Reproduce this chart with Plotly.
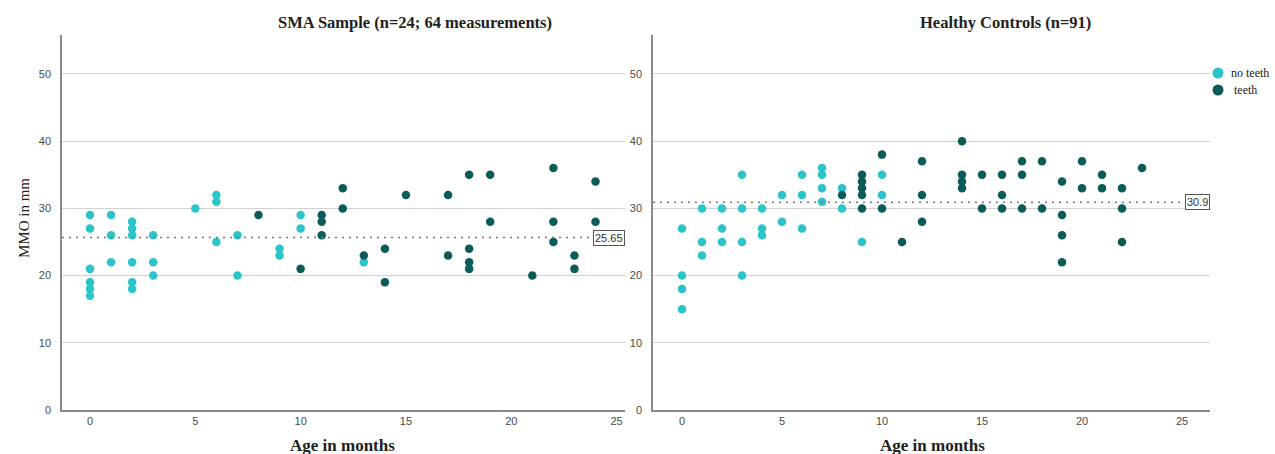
import plotly.graph_objects as go

# ---------------- data ----------------
sma_nt_age = [0,0,0,0,0,0, 1,1,1, 2,2,2,2,2,2, 3,3,3, 5, 6,6,6, 7,7, 9,9, 10,10, 13]
sma_nt_mmo = [29,27,21,19,18,17, 29,26,22, 28,27,26,22,19,18, 26,22,20, 30, 32,31,25, 26,20, 24,23, 29,27, 22]

sma_t_age = [8, 10, 11,11,11, 12,12, 13, 14,14, 15, 17,17, 18,18,18,18, 19,19, 21, 22,22,22, 23,23, 24,24]
sma_t_mmo = [29, 21, 29,28,26, 33,30, 23, 24,19, 32, 32,23, 35,24,22,21, 35,28, 20, 36,28,25, 23,21, 34,28]

hc_nt_age = [0,0,0,0, 1,1,1, 2,2,2, 3,3,3,3, 4,4,4, 5,5, 6,6,6, 7,7,7,7, 8,8, 9, 10,10]
hc_nt_mmo = [27,20,18,15, 30,25,23, 30,27,25, 35,30,25,20, 30,27,26, 32,28, 35,32,27, 36,35,33,31, 33,30, 25, 35,32]

hc_t_age = [8, 9,9,9,9,9, 10,10, 11, 12,12,12, 14,14,14,14, 15,15, 16,16,16, 17,17,17, 18,18,
            19,19,19,19, 20,20, 21,21, 22,22,22, 23]
hc_t_mmo = [32, 35,34,33,32,30, 38,30, 25, 37,32,28, 40,35,34,33, 35,30, 35,32,30, 37,35,30, 37,30,
            34,29,26,22, 37,33, 35,33, 33,30,25, 36]

sma_mean = 25.65
hc_mean = 30.9

panel_titles = ["SMA Sample (n=24; 64 measurements)", "Healthy Controls (n=91)"]
x_title = "Age in months"
y_title = "MMO in mm"
group_names = ["no teeth", "teeth"]
x_ticks = [0, 5, 10, 15, 20, 25]
y_ticks = [0, 10, 20, 30, 40, 50]

# ---------------- style ----------------
W, H = 1275, 454        # reference layout coordinates
FIG_H = 460             # rendered figure height (compensates capture scaling)
CYAN = "#2bc4c8"
DARK = "#0b5b58"
SERIF = "Liberation Serif, DejaVu Serif, serif"
SANS = "Liberation Sans, Arial, sans-serif"

def px_x(p):
    return p / W

def px_y(p):
    return (H - p) / H

fig = go.Figure()

panels = [
    dict(xa="x", ya="y", nt=(sma_nt_age, sma_nt_mmo), t=(sma_t_age, sma_t_mmo), mean=sma_mean, mean_lbl="25.65"),
    dict(xa="x2", ya="y2", nt=(hc_nt_age, hc_nt_mmo), t=(hc_t_age, hc_t_mmo), mean=hc_mean, mean_lbl="30.9"),
]

for i, p in enumerate(panels):
    fig.add_trace(go.Scatter(x=p["nt"][0], y=p["nt"][1], mode="markers", name=group_names[0],
                             showlegend=False,
                             marker=dict(color=CYAN, size=8.5, line=dict(width=0)),
                             xaxis=p["xa"], yaxis=p["ya"]))
    fig.add_trace(go.Scatter(x=p["t"][0], y=p["t"][1], mode="markers", name=group_names[1],
                             showlegend=False,
                             marker=dict(color=DARK, size=8.5, line=dict(width=0)),
                             xaxis=p["xa"], yaxis=p["ya"]))

ydom = [px_y(410), px_y(35)]
axis_common = dict(showline=True, linecolor="#8a8a8a", linewidth=1.5, ticks="", zeroline=False,
                   tickfont=dict(family=SANS, size=11, color="#4a4a4a"))

fig.update_layout(
    width=W, height=FIG_H,
    margin=dict(l=0, r=0, t=0, b=0),
    paper_bgcolor="white", plot_bgcolor="white",
    showlegend=False,
    xaxis=dict(domain=[px_x(62), px_x(625)], range=[-1.33, 25.4], tickvals=x_ticks,
               showgrid=False, anchor="y", **axis_common),
    yaxis=dict(domain=ydom, range=[0, 55.8], tickvals=y_ticks, showgrid=True,
               gridcolor="#d2d2d2", gridwidth=1.2, anchor="x", ticklabelstandoff=7, **axis_common),
    xaxis2=dict(domain=[px_x(653), px_x(1210)], range=[-1.45, 26.4], tickvals=x_ticks,
                showgrid=False, anchor="y2", **axis_common),
    yaxis2=dict(domain=ydom, range=[0, 55.8], tickvals=y_ticks, showgrid=True,
                gridcolor="#d2d2d2", gridwidth=1.2, anchor="x2", ticklabelstandoff=7, **axis_common),
)

# mean reference lines and labels
for p in panels:
    fig.add_shape(type="line", xref=p["xa"] + " domain", yref=p["ya"], x0=0, x1=1,
                  y0=p["mean"], y1=p["mean"], line=dict(color="#7a7a7a", width=1.5, dash="2px,5px"),
                  layer="above")
    fig.add_annotation(xref=p["xa"] + " domain", yref=p["ya"], x=1, y=p["mean"], xanchor="right",
                       yanchor="middle", text=p["mean_lbl"], showarrow=False,
                       font=dict(family=SANS, size=11, color="#333"),
                       bgcolor="white", bordercolor="#555", borderwidth=1, borderpad=1)

# panel titles
fig.add_annotation(xref="paper", yref="paper", x=px_x(415), y=px_y(22), text="<b>%s</b>" % panel_titles[0],
                   showarrow=False, font=dict(family=SERIF, size=16.5, color="#222"), xanchor="center", yanchor="middle")
fig.add_annotation(xref="paper", yref="paper", x=px_x(1005), y=px_y(22), text="<b>%s</b>" % panel_titles[1],
                   showarrow=False, font=dict(family=SERIF, size=16.5, color="#222"), xanchor="center", yanchor="middle")

# x axis titles
for cx in (342, 932):
    fig.add_annotation(xref="paper", yref="paper", x=px_x(cx), y=px_y(445), text="<b>%s</b>" % x_title,
                       showarrow=False, font=dict(family=SERIF, size=17, color="#222"),
                       xanchor="center", yanchor="middle")

# y axis title
fig.add_annotation(xref="paper", yref="paper", x=px_x(24), y=px_y(218), text=y_title,
                   textangle=-90, showarrow=False, font=dict(family=SERIF, size=15, color="#222"),
                   xanchor="center", yanchor="middle")

# legend (manual, top right)
leg_items = [(group_names[0], CYAN, 73, 1229), (group_names[1], DARK, 90, 1232)]
r = 5.5
for name, col, cy, tx in leg_items:
    fig.add_shape(type="circle", xref="paper", yref="paper",
                  x0=px_x(1218 - r), x1=px_x(1218 + r), y0=px_y(cy + r), y1=px_y(cy - r),
                  fillcolor=col, line=dict(width=0))
    fig.add_annotation(xref="paper", yref="paper", x=px_x(tx), y=px_y(cy), text=name, showarrow=False,
                       xanchor="left", yanchor="middle", font=dict(family=SERIF, size=12, color="#222"))

post = (
    "document.body.style.margin='0';"
    "document.body.style.padding='0';"
    "document.documentElement.style.overflow='hidden';"
    "document.body.style.overflow='hidden';"
)
fig.write_html("out.html", config={"displayModeBar": False}, post_script=post)
